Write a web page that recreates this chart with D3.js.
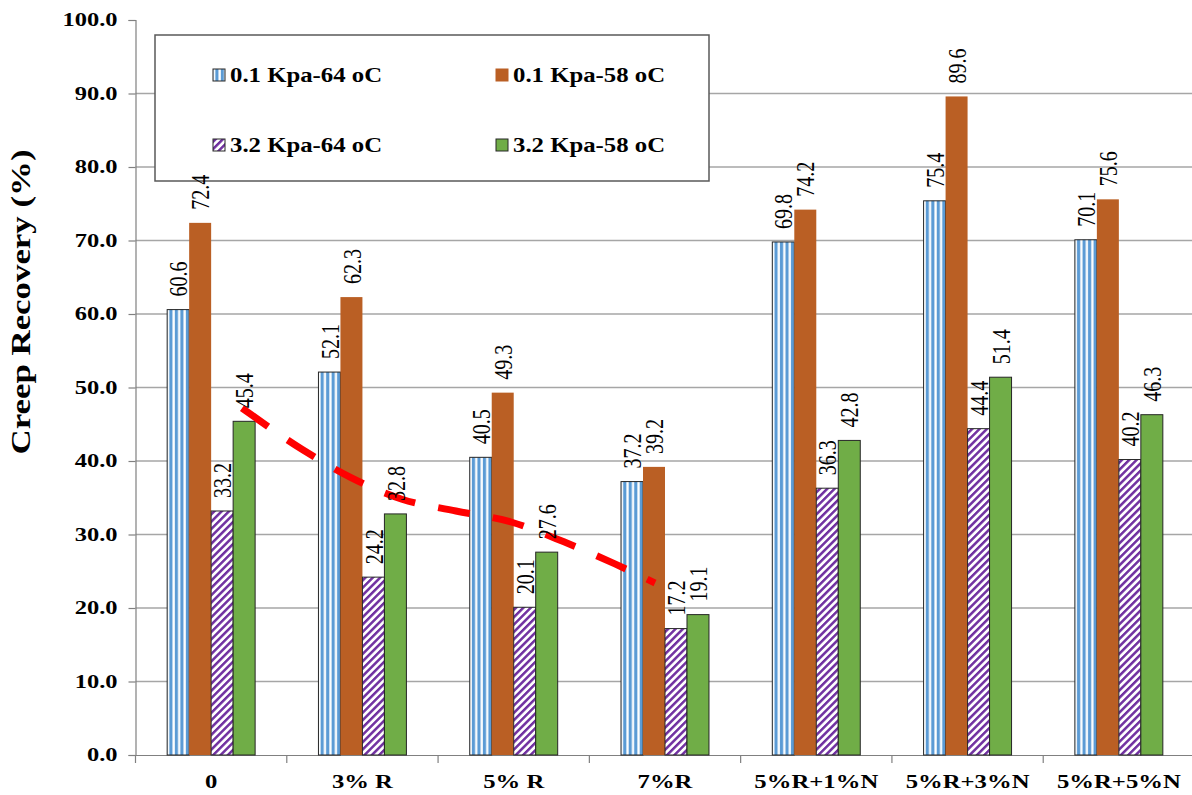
<!DOCTYPE html>
<html><head><meta charset="utf-8">
<script src="https://cdn.jsdelivr.net/npm/d3@7"></script>
<style>body{margin:0;background:#fff}svg{display:block}</style>
</head><body>
<script>
// ---- data ----
const categories = ["0", "3% R", "5% R", "7%R", "5%R+1%N", "5%R+3%N", "5%R+5%N"];
const seriesNames = ["0.1 Kpa-64 oC", "0.1 Kpa-58 oC", "3.2 Kpa-64 oC", "3.2 Kpa-58 oC"];
const kpa01_64 = [60.6, 52.1, 40.5, 37.2, 69.8, 75.4, 70.1];
const kpa01_58 = [72.4, 62.3, 49.3, 39.2, 74.2, 89.6, 75.6];
const kpa32_64 = [33.2, 24.2, 20.1, 17.2, 36.3, 44.4, 40.2];
const kpa32_58 = [45.4, 32.8, 27.6, 19.1, 42.8, 51.4, 46.3];
const yTicks = [0, 10, 20, 30, 40, 50, 60, 70, 80, 90, 100];
const yTitle = "Creep Recovery (%)";
// hand-drawn red dashed trend (position in category units, value)
const trendPos = [0.704, 1.100, 1.418, 1.761, 2.118, 2.482, 2.832, 3.169, 3.434];
const trendVal = [47.2, 41.6, 37.8, 34.8, 33.2, 31.7, 29.0, 26.0, 23.4];

const seriesValues = [kpa01_64, kpa01_58, kpa32_64, kpa32_58];

// ---- layout ----
const W = 1192, H = 795;
const X0 = 135.5, X1 = 1194.5, Y0 = 755, Y1 = 20;
const serif = "'Liberation Serif','Times New Roman',serif";

const svg = d3.select("body").append("svg").attr("width", W).attr("height", H);
svg.append("rect").attr("width", W).attr("height", H).attr("fill", "#fff");

const defs = svg.append("defs");
const pBlue = defs.append("pattern").attr("id", "pBlue").attr("patternUnits", "userSpaceOnUse")
  .attr("width", 5.5).attr("height", 10);
pBlue.append("rect").attr("width", 5.5).attr("height", 10).attr("fill", "#fff");
pBlue.append("rect").attr("x", 0.8).attr("width", 3.2).attr("height", 10).attr("fill", "#5b9bd5");
const pPurple = defs.append("pattern").attr("id", "pPurple").attr("patternUnits", "userSpaceOnUse")
  .attr("width", 5.2).attr("height", 10).attr("patternTransform", "rotate(45)");
pPurple.append("rect").attr("width", 5.2).attr("height", 10).attr("fill", "#fff");
pPurple.append("rect").attr("width", 2.5).attr("height", 10).attr("fill", "#7030a0");

const fills = ["url(#pBlue)", "#ba5f24", "url(#pPurple)", "#70ad47"];
const strokes = ["#262626", "none", "#262626", "#262626"];

const x0 = d3.scaleBand().domain(categories).range([X0, X1]).paddingInner(0).paddingOuter(0);
const x1 = d3.scaleBand().domain(d3.range(seriesNames.length)).range([0, x0.bandwidth()])
  .paddingInner(0).paddingOuter(1.44);
const y = d3.scaleLinear().domain([0, 100]).range([Y0, Y1]);
const xIdx = d3.scaleLinear().domain([0, categories.length]).range([X0, X1]);

function stretch(sel, k) {
  sel.each(function () {
    const w = this.getComputedTextLength();
    this.setAttribute("textLength", w * k);
    this.setAttribute("lengthAdjust", "spacingAndGlyphs");
  });
}

// gridlines
svg.append("g").selectAll("line").data(yTicks.filter(t => t > 0 && t < 100)).join("line")
  .attr("x1", X0).attr("x2", W).attr("y1", d => y(d)).attr("y2", d => y(d))
  .attr("stroke", "#a6a6a6").attr("stroke-width", 1.5);

// y axis
const yAxis = svg.append("g").attr("transform", `translate(${X0},0)`)
  .call(d3.axisLeft(y).tickValues(yTicks).tickSize(7).tickFormat(d3.format(".1f")));
yAxis.select(".domain").attr("stroke", "#808080").attr("stroke-width", 1.2);
yAxis.selectAll(".tick line").attr("stroke", "#808080").attr("stroke-width", 1.2);
yAxis.selectAll(".tick text").attr("x", -18).attr("font-family", serif).attr("font-weight", "bold")
  .attr("font-size", 18).attr("fill", "#000").call(stretch, 1.36);

// x axis
const xAxis = svg.append("g").attr("transform", `translate(0,${Y0})`)
  .call(d3.axisBottom(x0).tickSize(0).tickPadding(0));
xAxis.select(".domain").attr("stroke", "#808080").attr("stroke-width", 1.2);
xAxis.selectAll(".tick text").attr("y", 33).attr("dy", 0).attr("font-family", serif)
  .attr("font-weight", "bold").attr("font-size", 19).attr("fill", "#000").call(stretch, 1.3);
svg.append("g").selectAll("line").data(d3.range(categories.length + 1)).join("line")
  .attr("x1", d => xIdx(d)).attr("x2", d => xIdx(d)).attr("y1", Y0).attr("y2", Y0 + 8)
  .attr("stroke", "#808080").attr("stroke-width", 1.2);

// bars
const barLayer = svg.append("g");
const groups = barLayer.selectAll("g").data(categories).join("g")
  .attr("transform", d => `translate(${x0(d)},0)`);
groups.each(function (cat, ci) {
  const g = d3.select(this);
  seriesValues.forEach((vals, si) => {
    g.append("rect").attr("x", x1(si)).attr("width", x1.bandwidth())
      .attr("y", y(vals[ci])).attr("height", Y0 - y(vals[ci]))
      .attr("fill", fills[si]).attr("stroke", strokes[si]).attr("stroke-width", 1);
  });
});

// trend line
const trend = trendPos.map((p, i) => [xIdx(p), y(trendVal[i])]);
svg.append("path").attr("d", d3.line().curve(d3.curveMonotoneX)(trend))
  .attr("fill", "none").attr("stroke", "#ff0000").attr("stroke-width", 7)
  .attr("stroke-dasharray", "32,23.5");

// y title
svg.append("text").attr("transform", "translate(30,302) rotate(-90)")
  .attr("text-anchor", "middle").attr("font-family", serif).attr("font-weight", "bold")
  .attr("font-size", 28).attr("fill", "#000").attr("textLength", 305)
  .attr("lengthAdjust", "spacingAndGlyphs").text(yTitle);

// legend
const lg = svg.append("g");
lg.append("rect").attr("x", 155).attr("y", 35).attr("width", 554).attr("height", 146)
  .attr("fill", "#fff").attr("stroke", "#595959").attr("stroke-width", 1.5);
const legPos = [[213, 75], [496, 75], [213, 145], [496, 145]];
seriesNames.forEach((name, i) => {
  const [lx, ly] = legPos[i];
  lg.append("rect").attr("x", lx).attr("y", ly - 6).attr("width", 12).attr("height", 12)
    .attr("fill", fills[i]).attr("stroke", strokes[i] === "none" ? "#ba5f24" : strokes[i]).attr("stroke-width", 1);
  lg.append("text").attr("x", lx + 17).attr("y", ly).attr("dy", "0.35em")
    .attr("font-family", serif).attr("font-weight", "bold").attr("font-size", 21)
    .attr("fill", "#000").text(name).call(stretch, 1.18);
});

// data labels (drawn on top of everything)
const labelLayer = svg.append("g");
categories.forEach((cat, ci) => {
  seriesValues.forEach((vals, si) => {
    const cx = x0(cat) + x1(si) + x1.bandwidth() / 2;
    labelLayer.append("text")
      .attr("transform", `translate(${cx},${y(vals[ci]) - 13}) rotate(-90) scale(1,1.3)`)
      .attr("dy", "0.35em").attr("text-anchor", "start")
      .attr("font-family", serif).attr("font-size", 20).attr("fill", "#000")
      .text(vals[ci].toFixed(1));
  });
});
</script>
</body></html>
